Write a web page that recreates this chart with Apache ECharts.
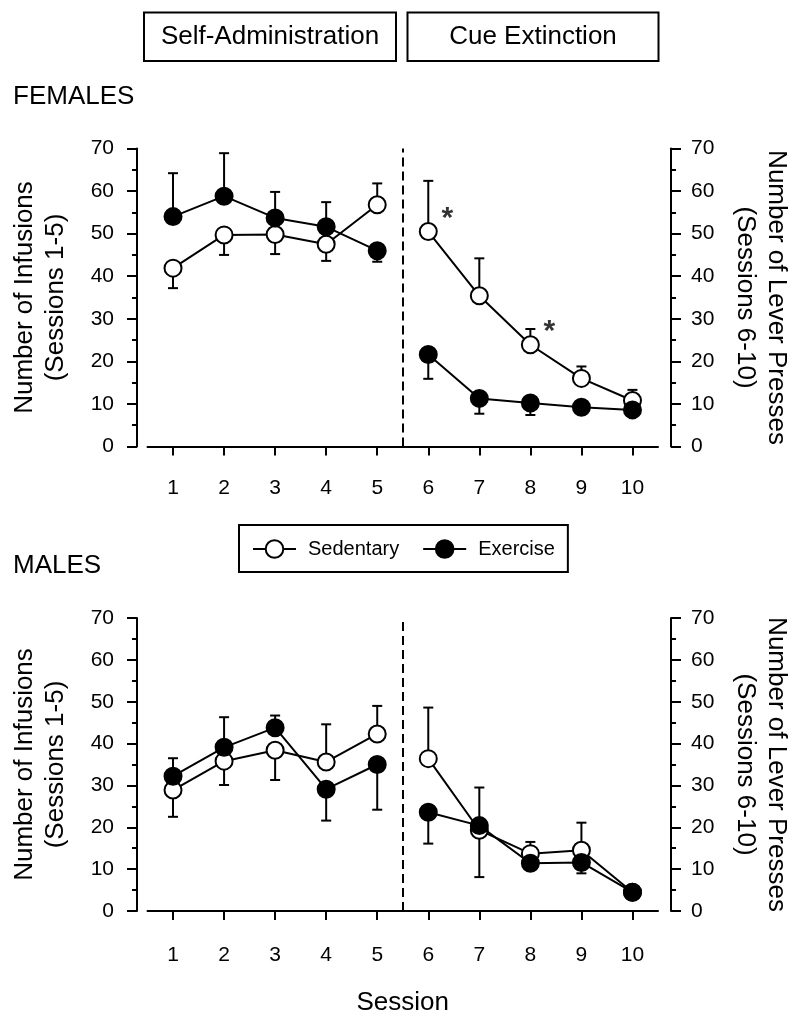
<!DOCTYPE html>
<html>
<head>
<meta charset="utf-8">
<script src="https://cdn.jsdelivr.net/npm/echarts@6/dist/echarts.min.js"></script>
<style>
html,body{margin:0;padding:0;background:#fff;}
#chart{width:800px;height:1017px;}
</style>
</head>
<body>
<div id="chart"></div>
<script>
// ---------- DATA ----------
const sessions = [1, 2, 3, 4, 5, 6, 7, 8, 9, 10];
const phaseBoundary = 5.5;
const phaseNames = ['Self-Administration', 'Cue Extinction'];
const groupNames = ['Sedentary', 'Exercise'];
const panelNames = ['FEMALES', 'MALES'];
const yTicks = [0, 10, 20, 30, 40, 50, 60, 70];

// Females
const sedF    = [41.9, 49.7, 49.8, 47.5, 56.8, 50.5, 35.4, 23.9, 16.0, 10.8];
const semSedF = [4.7, 4.7, 4.6, 3.9, 5.0, 11.9, 8.8, 3.7, 2.8, 2.5];
const dirSedF = [-1, -1, -1, -1, 1, 1, 1, 1, 1, 1];
const exF     = [54.0, 58.8, 53.7, 51.6, 46.0, 21.6, 11.3, 10.2, 9.2, 8.6];
const semExF  = [10.2, 10.1, 6.1, 5.8, 2.6, 5.7, 3.6, 2.8, 1.5, 1.5];
const dirExF  = [1, 1, 1, 1, -1, -1, -1, -1, -1, -1];
const sigF    = [6, 8]; // sessions marked * (Sedentary vs Exercise)

// Males
const sedM    = [28.9, 35.8, 38.4, 35.6, 42.3, 36.4, 19.3, 13.7, 14.5, 4.5];
const semSedM = [6.4, 5.7, 7.1, 9.0, 6.7, 12.2, 11.2, 2.8, 6.6, 0.5];
const dirSedM = [-1, -1, -1, 1, 1, 1, -1, 1, 1, 1];
const exM     = [32.2, 39.1, 43.8, 29.1, 35.0, 23.6, 20.4, 11.4, 11.6, 4.5];
const semExM  = [4.3, 7.2, 2.9, 7.5, 10.8, 7.5, 9.1, 1.0, 2.6, 0.5];
const dirExM  = [1, 1, 1, -1, -1, -1, 1, -1, -1, -1];
const sigM    = [];

// ---------- BUILD ----------
const FONT = '"Liberation Sans", Arial, Helvetica, sans-serif';
const panels = [
  {sed: sedF, semSed: semSedF, dirSed: dirSedF, ex: exF, semEx: semExF, dirEx: dirExF, sig: sigF},
  {sed: sedM, semSed: semSedM, dirSed: dirSedM, ex: exM, semEx: semExM, dirEx: dirExM, sig: sigM}
];
const gridTops = [148.5, 618];
const gridH = [298, 297];
const xOffsets = [6, 9];

function errRender(params, api) {
  const x = api.value(0), m = api.value(1), e = api.value(2);
  const p0 = api.coord([x, m]);
  const p1 = api.coord([x, e]);
  const hw = 5;
  return {
    type: 'group',
    children: [
      {type: 'line', shape: {x1: p0[0], y1: p0[1], x2: p1[0], y2: p1[1]}, style: {stroke: '#000', lineWidth: 2}},
      {type: 'line', shape: {x1: p1[0] - hw, y1: p1[1], x2: p1[0] + hw, y2: p1[1]}, style: {stroke: '#000', lineWidth: 2}}
    ]
  };
}

const grids = [], xAxes = [], yAxes = [], series = [];
panels.forEach((p, i) => {
  grids.push({left: 147.5, width: 511, top: gridTops[i], height: gridH[i]});
  xAxes.push({
    type: 'value', gridIndex: i, min: 0.5, max: 10.5, offset: xOffsets[i],
    axisLine: {show: true, lineStyle: {color: '#000', width: 2}},
    axisTick: {show: true, length: 9, lineStyle: {color: '#000', width: 2}, customValues: sessions},
    axisLabel: {color: '#000', fontSize: 21, fontFamily: FONT, margin: 25, customValues: sessions},
    splitLine: {show: false},
    name: i === 1 ? 'Session' : '', nameLocation: 'middle', nameGap: 70,
    nameTextStyle: {color: '#000', fontSize: 26, fontFamily: FONT}
  });
  const yCommon = {
    type: 'value', gridIndex: i, min: 0, max: 70, interval: 10,
    axisLine: {show: true, lineStyle: {color: '#000', width: 2}},
    axisTick: {show: true, length: 10, lineStyle: {color: '#000', width: 2}},
    minorTick: {show: true, splitNumber: 2, length: 5, lineStyle: {color: '#000', width: 2}},
    splitLine: {show: false},
    nameLocation: 'middle',
    nameTextStyle: {color: '#000', fontSize: 26, fontFamily: FONT, lineHeight: 31}
  };
  yAxes.push(Object.assign({}, yCommon, {
    position: 'left', offset: 10.5,
    axisLabel: {color: '#000', fontSize: 21, fontFamily: FONT, margin: 23},
    name: 'Number of Infusions\n(Sessions 1-5)', nameRotate: 90, nameGap: 66
  }));
  yAxes.push(Object.assign({}, yCommon, {
    position: 'right', offset: 13,
    axisLabel: {color: '#000', fontSize: 21, fontFamily: FONT, margin: 20},
    name: 'Number of Lever Presses\n(Sessions 6-10)', nameRotate: -90, nameGap: 59
  }));
  const yIdx = i * 2;

  const groups = [
    {name: groupNames[0], vals: p.sed, sem: p.semSed, dir: p.dirSed, fill: '#fff', z: 3},
    {name: groupNames[1], vals: p.ex, sem: p.semEx, dir: p.dirEx, fill: '#000', z: 4}
  ];
  groups.forEach(g => {
    // error bars
    series.push({
      type: 'custom', name: g.name + ' SEM', xAxisIndex: i, yAxisIndex: yIdx, z: 2,
      renderItem: errRender, silent: true,
      data: sessions.map((s, k) => [s, g.vals[k], g.vals[k] + g.dir[k] * g.sem[k]])
    });
    // two phases as separate segments
    [sessions.filter(s => s < phaseBoundary), sessions.filter(s => s > phaseBoundary)].forEach((ss, ph) => {
      const ser = {
        type: 'line', name: g.name, xAxisIndex: i, yAxisIndex: yIdx, z: g.z,
        symbol: 'circle', symbolSize: 17, showSymbol: true,
        lineStyle: {color: '#000', width: 2},
        itemStyle: {color: g.fill, borderColor: '#000', borderWidth: 2},
        data: ss.map(s => [s, g.vals[sessions.indexOf(s)]])
      };
      if (g.name === groupNames[0] && ph === 0) {
        ser.markLine = {
          symbol: 'none', silent: true, label: {show: false},
          lineStyle: {color: '#000', width: 2, type: [9, 5], opacity: 1},
          emphasis: {disabled: true},
          data: [{xAxis: phaseBoundary}]
        };
      }
      series.push(ser);
    });
  });
  // significance asterisks
  series.push({
    type: 'scatter', name: 'sig', xAxisIndex: i, yAxisIndex: yIdx, z: 5,
    symbolSize: 0, silent: true,
    label: {show: true, formatter: '*', position: 'inside', offset: [19, -13],
            color: '#000', fontSize: 30, fontWeight: 'bold', fontFamily: FONT},
    data: p.sig.map(s => [s, p.sed[sessions.indexOf(s)]])
  });
});

const graphics = [
  {type: 'rect', shape: {x: 144, y: 12.5, width: 252, height: 48.5}, style: {fill: '#fff', stroke: '#000', lineWidth: 2}},
  {type: 'rect', shape: {x: 407.5, y: 12.5, width: 251, height: 48.5}, style: {fill: '#fff', stroke: '#000', lineWidth: 2}},
  {type: 'text', x: 270, y: 37, style: {text: phaseNames[0], font: '26px ' + FONT, fill: '#000', align: 'center', verticalAlign: 'middle'}},
  {type: 'text', x: 533, y: 37, style: {text: phaseNames[1], font: '26px ' + FONT, fill: '#000', align: 'center', verticalAlign: 'middle'}},
  {type: 'text', x: 13, y: 97, style: {text: panelNames[0], font: '26px ' + FONT, fill: '#000', align: 'left', verticalAlign: 'middle'}},
  {type: 'text', x: 13, y: 566, style: {text: panelNames[1], font: '26px ' + FONT, fill: '#000', align: 'left', verticalAlign: 'middle'}}
];

const chart = echarts.init(document.getElementById('chart'), null, {renderer: 'canvas'});
chart.setOption({
  animation: false,
  backgroundColor: '#fff',
  grid: grids,
  xAxis: xAxes,
  yAxis: yAxes,
  legend: {
    data: groupNames,
    left: 239, top: 525,
    orient: 'horizontal',
    borderColor: '#000', borderWidth: 2,
    padding: [14, 13, 13, 13],
    itemWidth: 43, itemHeight: 22, itemGap: 23,
    textStyle: {color: '#000', fontSize: 20, fontFamily: FONT, padding: [0, 0, 0, 7]},
    selectedMode: false
  },
  graphic: graphics,
  series: series
});
</script>
</body>
</html>
